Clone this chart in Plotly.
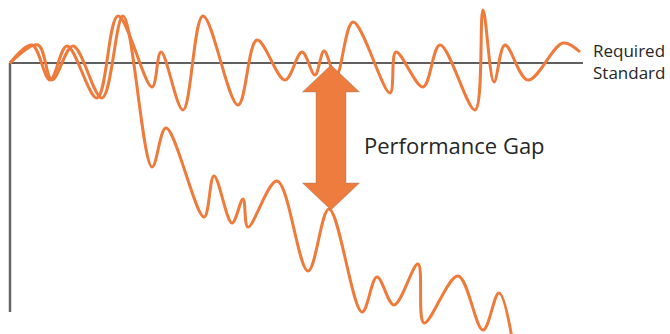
import plotly.graph_objects as go

# Performance relative to the required standard (0 = standard), over time
t_upper = [0, 22, 40, 57, 87, 108, 142, 151, 173, 193, 228, 247, 275, 292, 305, 314,
           326, 343, 380, 386, 413, 430, 465, 473, 484, 495, 518, 553, 570]
perf_upper = [0, 18, -17, 17, -35, 47, -24, 11, -47, 47, -42, 23, -17, 11, -12, 12,
              -13, 41, -30, 11, -24, 18, -47, 53, -19, 18, -17, 20, 11]

t_lower = [0, 28, 42, 63, 92, 113, 142, 156, 194, 204, 222, 233, 238, 267, 298, 319,
           352, 367, 384, 408, 414, 448, 473, 489, 504]
perf_lower = [0, 18, -17, 17, -35, 47, -104, -65, -154, -113, -160, -136, -164, -118, -208, -146,
              -249, -214, -242, -201, -260, -213, -267, -230, -287]

standard_end = 573
axis_bottom = -249
gap_idx = 15  # point on the declining curve where the gap is marked

orange = "#EE7B3C"
arrow_orange = "#ED7C3E"

fig = go.Figure()
for xs, ys in [(t_lower, perf_lower), (t_upper, perf_upper)]:
    fig.add_trace(go.Scatter(x=xs, y=ys, mode="lines",
                             line=dict(color=orange, width=3, shape="spline", smoothing=1.0),
                             hoverinfo="skip", showlegend=False))

# standard line and vertical axis
fig.add_shape(type="line", x0=0, x1=standard_end, y0=0, y1=0,
              line=dict(color="#2b2b2b", width=1.6), layer="below")
fig.add_shape(type="line", x0=0, x1=0, y0=0, y1=axis_bottom,
              line=dict(color="#666666", width=2.5), layer="below")

# double-headed arrow spanning the gap
ax = t_lower[gap_idx] + 2
top = -2
bottom = perf_lower[gap_idx] - 1
head_len, head_half, shaft_half = 27, 28.5, 15
pts = [
    (ax, top), (ax + head_half, top - head_len), (ax + shaft_half, top - head_len),
    (ax + shaft_half, bottom + head_len), (ax + head_half, bottom + head_len), (ax, bottom),
    (ax - head_half, bottom + head_len), (ax - shaft_half, bottom + head_len),
    (ax - shaft_half, top - head_len), (ax - head_half, top - head_len),
]
path = "M " + " L ".join(f"{x},{y}" for x, y in pts) + " Z"
fig.add_shape(type="path", path=path, fillcolor=arrow_orange,
              line=dict(color="rgba(140,120,110,0.5)", width=0.8), layer="above")

fig.add_annotation(x=352, y=-82, text="Performance Gap", showarrow=False,
                   xanchor="left", yanchor="middle",
                   font=dict(family="Open Sans", size=22, color="#262626"))
fig.add_annotation(x=581, y=2, text="Required<br>Standard", showarrow=False,
                   xanchor="left", yanchor="middle", align="left",
                   font=dict(family="Open Sans", size=17, color="#262626"))

fig.update_layout(
    width=670, height=334, margin=dict(l=0, r=0, t=0, b=0),
    paper_bgcolor="white", plot_bgcolor="white",
    xaxis=dict(range=[-10, 660], visible=False, fixedrange=True),
    yaxis=dict(range=[-271, 63], visible=False, fixedrange=True),
)

fig.write_html("out.html")
